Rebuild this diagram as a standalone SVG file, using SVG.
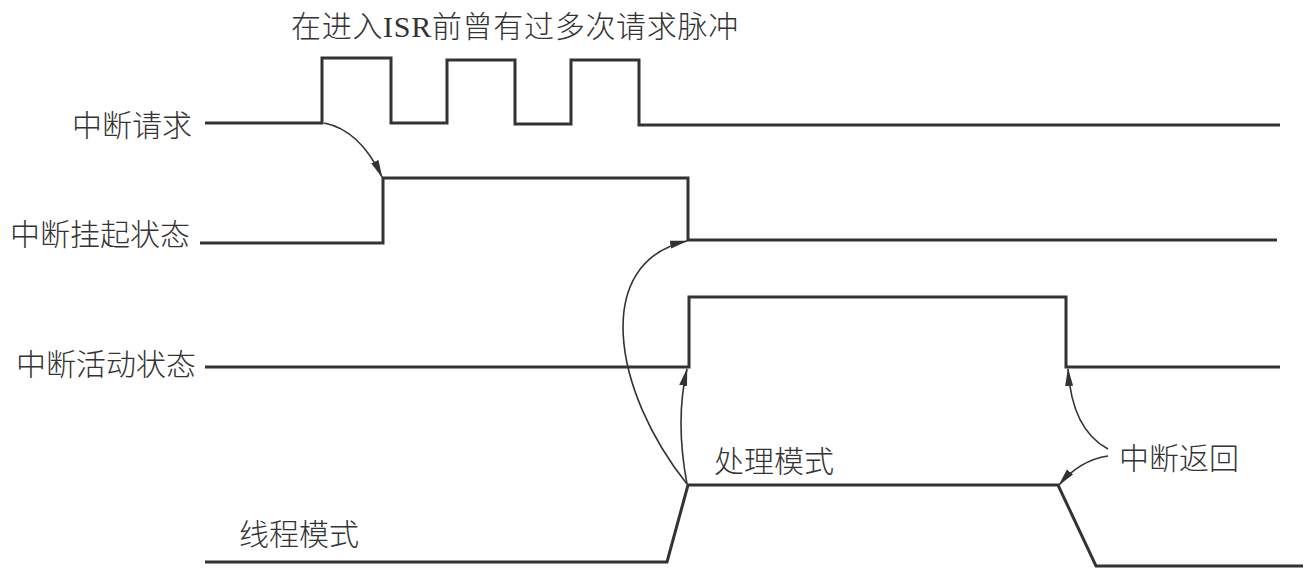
<svg xmlns="http://www.w3.org/2000/svg" width="1315" height="579" viewBox="0 0 1315 579">
<style>
.t{font-family:"Noto Sans CJK SC","Noto Sans",sans-serif;font-size:30px;font-weight:300;fill:#333}
.s{fill:none;stroke:#333;stroke-width:3;stroke-linejoin:miter}
.a{fill:none;stroke:#333;stroke-width:1.6;marker-end:url(#ah)}
</style>
<defs>
<marker id="ah" viewBox="0 0 18 9" refX="17" refY="4.5" markerWidth="18" markerHeight="9" markerUnits="userSpaceOnUse" orient="auto"><path d="M0,0.5 L18,4.5 L0,8.5 Z" fill="#333"/></marker>
</defs>
<rect width="1315" height="579" fill="#fff"/>
<g id="title"><text class="t" x="291" y="37" letter-spacing="0.7">在进入<tspan font-family="Liberation Serif,serif" font-weight="400">ISR</tspan>前曾有过多次请求脉冲</text></g>
<g id="request">
<text class="t" x="192" y="136" text-anchor="end">中断请求</text>
<path class="s" d="M205 123 H322 V58 H391 V123 H447 V60 H515 V124 H571 V60 H639 V125 H1280"/>
</g>
<g id="pending">
<text class="t" x="190" y="245" text-anchor="end">中断挂起状态</text>
<path class="s" d="M200 243 H383 V178 H688 V240 H1277"/>
</g>
<g id="active">
<text class="t" x="196" y="375" text-anchor="end">中断活动状态</text>
<path class="s" d="M205 367 H689 V297 H1066 V367 H1280"/>
</g>
<g id="mode">
<text class="t" x="239" y="545">线程模式</text>
<text class="t" x="714" y="472">处理模式</text>
<path class="s" d="M205 562 H667 L688 485 H1058 L1096 566 H1303"/>
</g>
<g id="ret"><text class="t" x="1119" y="469">中断返回</text></g>
<g id="connectors">
<path class="a" d="M324 123 Q360 130 382 177"/>
<path class="a" d="M687 484 C612 390 592 262 687 241"/>
<path class="a" d="M687 484 Q675 420 687 369"/>
<path class="a" d="M1108 449 Q1072 430 1068 369"/>
<path class="a" d="M1108 456 Q1080 460 1059 485"/>
</g>
</svg>
